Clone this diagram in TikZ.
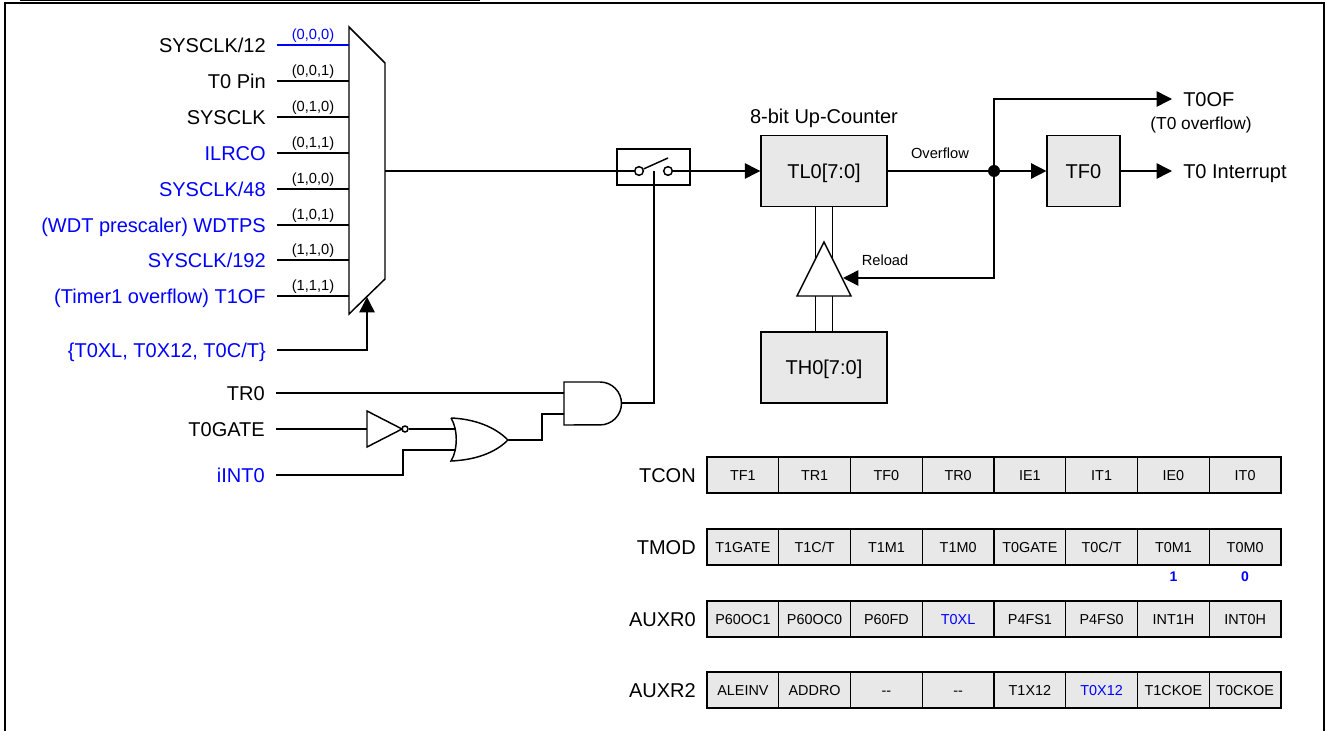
\documentclass[tikz,border=0pt]{standalone}
\usepackage{fontspec}
\setmainfont{Liberation Sans}
\usetikzlibrary{arrows.meta}
\definecolor{regfill}{RGB}{232,232,232}
\definecolor{sigblue}{RGB}{0,0,255}
\tikzset{
  wire/.style={line width=1.1pt},
  arr/.style={wire,-{Triangle[length=11.5pt,width=11.5pt]}},
  siglbl/.style={anchor=east,inner xsep=8.25pt,inner ysep=0pt,font=\fontsize{15}{15}\selectfont,text height=10.7pt,text depth=0pt},
  codelbl/.style={above,inner sep=1.2pt,font=\fontsize{11}{11}\selectfont},
  tiny/.style={inner sep=0pt,font=\fontsize{11}{11}\selectfont},
  blockbox/.style={draw,wire,fill=regfill,inner sep=0pt,minimum height=53.5pt,font=\fontsize{15}{15}\selectfont,text height=10.7pt,text depth=0pt},
  regcell/.style={draw,wire,fill=regfill,inner sep=0pt,minimum width=53.8pt,minimum height=27pt,font=\fontsize{10.8}{11}\selectfont,text height=7.8pt,text depth=0pt},
  reglbl/.style={anchor=east,inner sep=0pt,font=\fontsize{15}{15}\selectfont,text height=10.7pt,text depth=0pt},
  contact/.style={circle,draw,wire,fill=white,inner sep=0pt,minimum size=6.5pt},
}
\begin{document}
\begin{tikzpicture}[x=0.75pt,y=-0.75pt]
\useasboundingbox (0,0) rectangle (1325,731);
\draw[line width=1.5pt] (5,731) -- (5,3) -- (1324,3) -- (1324,731);
\draw[line width=1pt] (20,0.5) -- (480,0.5);
% clock inputs
\draw[wire] (349,27) -- (385,63) -- (385,279) -- (349,314) -- cycle;
\node[siglbl] (clk0) at (277,45) {SYSCLK/12};
\node[siglbl] (clk1) at (277,81) {T0 Pin};
\node[siglbl] (clk2) at (277,117) {SYSCLK};
\node[siglbl,text=sigblue] (clk3) at (277,153) {ILRCO};
\node[siglbl,text=sigblue] (clk4) at (277,189) {SYSCLK/48};
\node[siglbl,text=sigblue] (clk5) at (277,225) {(WDT prescaler) WDTPS};
\node[siglbl,text=sigblue] (clk6) at (277,260) {SYSCLK/192};
\node[siglbl,text=sigblue] (clk7) at (277,296) {(Timer1 overflow) T1OF};
\node[siglbl,text=sigblue] (sel) at (277,350) {\{T0XL, T0X12, T0C/T\}};
\coordinate (mux0) at (349,45);
\coordinate (mux1) at (349,81);
\coordinate (mux2) at (349,117);
\coordinate (mux3) at (349,153);
\coordinate (mux4) at (349,189);
\coordinate (mux5) at (349,225);
\coordinate (mux6) at (349,260);
\coordinate (mux7) at (349,296);
\coordinate (muxsel) at (367,297);
\coordinate (muxout) at (385,171);
\draw[sigblue,line width=0.8pt] (clk0.east) -- node[codelbl] (code0) {(0,0,0)} (mux0);
\draw[wire] (clk1.east) -- node[codelbl] (code1) {(0,0,1)} (mux1);
\draw[wire] (clk2.east) -- node[codelbl] (code2) {(0,1,0)} (mux2);
\draw[wire] (clk3.east) -- node[codelbl] (code3) {(0,1,1)} (mux3);
\draw[wire] (clk4.east) -- node[codelbl] (code4) {(1,0,0)} (mux4);
\draw[wire] (clk5.east) -- node[codelbl] (code5) {(1,0,1)} (mux5);
\draw[wire] (clk6.east) -- node[codelbl] (code6) {(1,1,0)} (mux6);
\draw[wire] (clk7.east) -- node[codelbl] (code7) {(1,1,1)} (mux7);
\draw[arr] (sel.east) -| (muxsel);
% gate
\node[siglbl] (tr0) at (276,393) {TR0};
\node[siglbl] (t0gate) at (276,429) {T0GATE};
\node[siglbl,text=sigblue] (iint0) at (276,475) {iINT0};
\draw[wire] (564,382) -- (600,382) arc[start angle=90,end angle=-90,radius=16.1pt] -- (564,425) -- cycle;
\draw[wire] (451,418) .. controls (475,419) and (495,427) .. (508,440) .. controls (495,453) and (475,460) .. (451,461) .. controls (458,450) and (458,429) .. (451,418);
\draw[wire] (367,411) -- (402,429) -- (367,447) -- cycle;
\node[circle,draw,wire,inner sep=0pt,minimum size=4.5pt] (notb) at (405,429) {};
\coordinate (andin1) at (564,393);
\coordinate (andin2) at (564,414);
\coordinate (andout) at (621.5,403);
\coordinate (orin1) at (455,429);
\coordinate (orin2) at (455,450);
\coordinate (orout) at (508,440);
\coordinate (notin) at (367,429);
\coordinate (iintb) at (403,475);
\coordinate (orb) at (542,414);
\coordinate (swc) at (654,171);
\draw[wire] (tr0.east) -- (andin1);
\draw[wire] (t0gate.east) -- (notin);
\draw[wire] (notb) -- (orin1);
\draw[wire] (iint0.east) -- (iintb) |- (orin2);
\draw[wire] (orout) -| (orb) -- (andin2);
\draw[wire] (andout) -| (swc);
% switch
\node[draw,wire,inner sep=0pt,minimum width=54.75pt,minimum height=27pt] (sw) at (653.5,167) {};
\node[contact] (swa) at (639,171) {};
\node[contact] (swb) at (668,171) {};
\coordinate (swlev) at (668,158);
\draw[wire] (swa) -- (swlev);
\draw[wire] (muxout) -- (swa);
% counter
\node[blockbox,minimum width=94.5pt] (tl0) at (824,171) {TL0[7:0]};
\node[blockbox,minimum width=94.5pt] (th0) at (824,367.5) {TH0[7:0]};
\node[blockbox,minimum width=54.5pt] (tf0) at (1083.5,171) {TF0};
\node[anchor=south,inner sep=0pt,font=\fontsize{15}{15}\selectfont] (cnt) at (824,128) {8-bit Up-Counter};
\node[siglbl,anchor=west] (t0of) at (1172,99) {T0OF};
\node[siglbl,anchor=west] (t0int) at (1172,171) {T0 Interrupt};
\node[inner sep=0pt,font=\fontsize{13}{13}\selectfont] (t0ofn) at (1201,125) {(T0 overflow)};
\node[circle,fill,inner sep=0pt,minimum size=9pt] (jn) at (994,171) {};
\node[tiny] (ovf) at (940,153) {Overflow};
\node[tiny] (rld) at (885,260) {Reload};
\draw[wire] ([xshift=-6.375pt]tl0.south) -- ([xshift=-6.375pt]th0.north);
\draw[wire] ([xshift=6.375pt]tl0.south) -- ([xshift=6.375pt]th0.north);
\draw[wire,fill=white] (824,242) -- (851,296) -- (797,296) -- cycle;
\coordinate (bufin) at (843,278);
\draw[arr] (swb) -- (tl0);
\draw[wire] (tl0) -- (jn);
\draw[arr] (jn) -- (tf0);
\draw[arr] (tf0) -- (t0int.west);
\draw[arr] (jn) |- (t0of.west);
\draw[arr] (jn) |- (bufin);
% registers
\node[reglbl] (tcon) at (696,475) {TCON};
\node[reglbl] (tmod) at (696,547) {TMOD};
\node[reglbl] (auxr0) at (696,619) {AUXR0};
\node[reglbl] (auxr2) at (696,690) {AUXR2};
\node[regcell] (tcon7) at (742.9,475) {TF1};
\node[regcell] (tcon6) at (814.6,475) {TR1};
\node[regcell] (tcon5) at (886.4,475) {TF0};
\node[regcell] (tcon4) at (958.1,475) {TR0};
\node[regcell] (tcon3) at (1029.9,475) {IE1};
\node[regcell] (tcon2) at (1101.6,475) {IT1};
\node[regcell] (tcon1) at (1173.4,475) {IE0};
\node[regcell] (tcon0) at (1245.1,475) {IT0};
\node[regcell] (tmod7) at (742.9,547) {T1GATE};
\node[regcell] (tmod6) at (814.6,547) {T1C/T};
\node[regcell] (tmod5) at (886.4,547) {T1M1};
\node[regcell] (tmod4) at (958.1,547) {T1M0};
\node[regcell] (tmod3) at (1029.9,547) {T0GATE};
\node[regcell] (tmod2) at (1101.6,547) {T0C/T};
\node[regcell] (tmod1) at (1173.4,547) {T0M1};
\node[regcell] (tmod0) at (1245.1,547) {T0M0};
\node[regcell] (aux07) at (742.9,619) {P60OC1};
\node[regcell] (aux06) at (814.6,619) {P60OC0};
\node[regcell] (aux05) at (886.4,619) {P60FD};
\node[regcell,text=sigblue] (aux04) at (958.1,619) {T0XL};
\node[regcell] (aux03) at (1029.9,619) {P4FS1};
\node[regcell] (aux02) at (1101.6,619) {P4FS0};
\node[regcell] (aux01) at (1173.4,619) {INT1H};
\node[regcell] (aux00) at (1245.1,619) {INT0H};
\node[regcell] (aux27) at (742.9,690) {ALEINV};
\node[regcell] (aux26) at (814.6,690) {ADDRO};
\node[regcell] (aux25) at (886.4,690) {-{}-};
\node[regcell] (aux24) at (958.1,690) {-{}-};
\node[regcell] (aux23) at (1029.9,690) {T1X12};
\node[regcell,text=sigblue] (aux22) at (1101.6,690) {T0X12};
\node[regcell] (aux21) at (1173.4,690) {T1CKOE};
\node[regcell] (aux20) at (1245.1,690) {T0CKOE};
\node[inner sep=0pt,text=sigblue,font=\bfseries\fontsize{10.5}{11}\selectfont] (m1val) at (1173.4,577) {1};
\node[inner sep=0pt,text=sigblue,font=\bfseries\fontsize{10.5}{11}\selectfont] (m0val) at (1245.1,577) {0};
\end{tikzpicture}
\end{document}
